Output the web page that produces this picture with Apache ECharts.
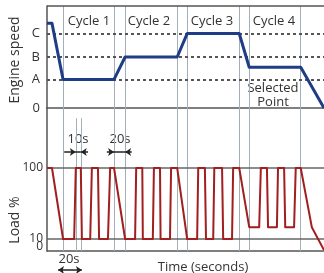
<!DOCTYPE html>
<html><head><meta charset="utf-8">
<script src="https://cdn.jsdelivr.net/npm/echarts@6/dist/echarts.min.js"></script>
<style>html,body{margin:0;padding:0;background:#fff}#c{width:324px;height:273px}</style>
</head><body><div id="c"></div>
<script>
// ---- data (time in seconds) ----
const timeMax = 500;
const engineTime  = [0, 9, 29, 121, 141, 235, 253, 347, 365, 458, 500];
const engineSpeed = [83, 83, 28, 28, 50, 50, 73, 73, 40, 40, 0];
const levelNames  = ['0', 'A', 'B', 'C'];
const levelValues = [0, 28, 50, 73];
const loadTime = [0,9,29,49,52,61,63,78,81,92,94,110,114,121,141,
  159,161,172,173,191,193,204,205,222,224,235,253,
  271,273,285,287,300,302,316,318,334,336,347,365,
  383,386,397,399,415,417,428,430,446,449,458,478,500];
const loadPct = [100,100,10,10,100,100,10,10,100,100,10,10,100,100,10,
  10,100,100,10,10,100,100,10,10,100,100,10,
  10,100,100,10,10,100,100,10,10,100,100,25,
  25,100,100,25,25,100,100,25,25,100,100,25,-4];
const loadTicks = [0, 10, 100];
const cycleBoundaries = [29, 121, 141, 235, 253, 347, 365, 458];
const pulseMarks = [52, 61];
const cycleLabels = ['Cycle 1', 'Cycle 2', 'Cycle 3', 'Cycle 4'];

const FONT = '"Open Sans", sans-serif';
const TXT = '#333';
const AX = '#555';
const VGRID = '#a3afb8';

const chart = echarts.init(document.getElementById('c'), null, {renderer: 'canvas'});
const pairs = (xs, ys) => xs.map((x, i) => [x, ys[i]]);
const vline = t => ({xAxis: t, lineStyle: {color: VGRID, width: 1, type: 'solid'}});
const baseX = gi => ({gridIndex: gi, type: 'value', min: 0, max: timeMax,
  axisLine: {show: true, onZero: false, lineStyle: {color: AX, width: 1.5}},
  axisTick: {show: false}, axisLabel: {show: false}, splitLine: {show: false}});
const mlBase = {silent: true, symbol: 'none', label: {show: false}, animation: false};
const arrow = (t1, t2, y, sym) => [{coord: [t1, y], symbol: sym[0]}, {coord: [t2, y], symbol: sym[1]}];

const texts = [
  {type: 'text', x: 15, y: 60, rotation: Math.PI / 2, style: {text: 'Engine speed', fill: TXT, font: '14px ' + FONT, align: 'center', verticalAlign: 'middle'}},
  {type: 'text', x: 15, y: 220, rotation: Math.PI / 2, style: {text: 'Load %', fill: TXT, font: '14px ' + FONT, align: 'center', verticalAlign: 'middle'}},
  ...[89, 149, 212, 274].map((x, i) => ({type: 'text', x: x, y: 21, style: {text: cycleLabels[i], fill: TXT, font: '13px ' + FONT, align: 'center', verticalAlign: 'middle'}})),
  {type: 'text', x: 273, y: 95, style: {text: 'Selected\nPoint', fill: TXT, font: '13px ' + FONT, lineHeight: 14, align: 'center', verticalAlign: 'middle'}},
  {type: 'text', x: 78, y: 139, style: {text: '10s', fill: TXT, font: '13px ' + FONT, align: 'center', verticalAlign: 'middle'}},
  {type: 'text', x: 120, y: 139, style: {text: '20s', fill: TXT, font: '13px ' + FONT, align: 'center', verticalAlign: 'middle'}},
  {type: 'text', x: 69, y: 259, style: {text: '20s', fill: TXT, font: '13px ' + FONT, align: 'center', verticalAlign: 'middle'}},
  {type: 'text', x: 203, y: 267, style: {text: 'Time (seconds)', fill: TXT, font: '13px ' + FONT, align: 'center', verticalAlign: 'middle'}}
];

const option = {
  animation: false,
  textStyle: {fontFamily: FONT},
  grid: [
    {left: 47, right: 0, top: 6, height: 102},
    {left: 47, right: 0, top: 108, height: 143},
    {left: 47, right: 0, top: 0, bottom: 0}
  ],
  xAxis: [baseX(0), baseX(1), {gridIndex: 2, type: 'value', min: 0, max: timeMax, show: false}],
  yAxis: [
    {gridIndex: 0, type: 'value', min: 0, max: 100,
      axisLine: {show: true, onZero: false, lineStyle: {color: AX, width: 1.5}},
      axisTick: {show: false}, splitLine: {show: false},
      axisLabel: {customValues: levelValues, formatter: v => levelNames[levelValues.indexOf(v)],
        hideOverlap: false, color: TXT, fontSize: 13, fontFamily: FONT, margin: 7}},
    {gridIndex: 1, type: 'value', min: -5.2, max: 176,
      axisLine: {show: true, onZero: false, lineStyle: {color: AX, width: 1.5}},
      axisTick: {show: false}, splitLine: {show: false}, axisLabel: {show: false}},
    {gridIndex: 2, type: 'value', min: 0, max: 273, inverse: true, show: false}
  ],
  series: [
    {type: 'line', xAxisIndex: 0, yAxisIndex: 0, z: 1, data: [], silent: true,
      markLine: Object.assign({}, mlBase, {data: [
        ...cycleBoundaries.map(vline),
        ...levelValues.slice(1).map(v => ({yAxis: v, lineStyle: {color: AX, width: 2, type: [3, 3]}})),
        {yAxis: 100, lineStyle: {color: AX, width: 1.5, type: 'solid'}}
      ]})},
    {type: 'line', xAxisIndex: 1, yAxisIndex: 1, z: 1, data: [], silent: true,
      markLine: Object.assign({}, mlBase, {data: [
        ...cycleBoundaries.map(vline),
        ...pulseMarks.map(t => [{coord: [t, 163], lineStyle: {color: VGRID, width: 1, type: 'solid'}}, {coord: [t, -5.2]}]),
        {yAxis: 10, lineStyle: {color: '#666', width: 1.5, type: 'solid'}},
        {yAxis: 100, lineStyle: {color: '#666', width: 1.5, type: 'solid'}}
      ]})},
    {type: 'line', name: 'Engine speed', xAxisIndex: 0, yAxisIndex: 0, z: 5,
      data: pairs(engineTime, engineSpeed), symbol: 'none',
      lineStyle: {color: '#1f3d85', width: 3, join: 'round'}},
    {type: 'line', name: 'Load %', xAxisIndex: 1, yAxisIndex: 1, z: 5,
      data: pairs(loadTime, loadPct), symbol: 'none',
      lineStyle: {color: '#a11f1f', width: 2, join: 'round'}},
    {type: 'line', xAxisIndex: 2, yAxisIndex: 2, z: 6, data: [], silent: true,
      markLine: {silent: true, animation: false, label: {show: false}, symbolSize: 6,
        lineStyle: {color: '#222', width: 1.5, type: 'solid'},
        data: [
          arrow(31, 52, 152, ['none', 'arrow']), arrow(52, 61, 152, ['none', 'none']), arrow(74, 61, 152, ['none', 'arrow']),
          arrow(108, 121, 152, ['none', 'arrow']), arrow(121, 141, 152, ['none', 'none']), arrow(153, 141, 152, ['none', 'arrow']),
          arrow(20, 63, 270, ['arrow', 'arrow'])
        ]}}
  ],
  graphic: texts
};
chart.setOption(option);

// Load % tick labels, placed through the y scale of the lower grid
const axisX = chart.convertToPixel({gridIndex: 1}, [0, 0])[0];
const tickTexts = loadTicks.map(v => ({type: 'text',
  x: axisX - 4, y: chart.convertToPixel({yAxisIndex: 1}, v),
  style: {text: String(v), fill: TXT, font: '12px ' + FONT, align: 'right', verticalAlign: 'middle'}}));
chart.setOption({graphic: texts.concat(tickTexts)});
</script></body></html>
